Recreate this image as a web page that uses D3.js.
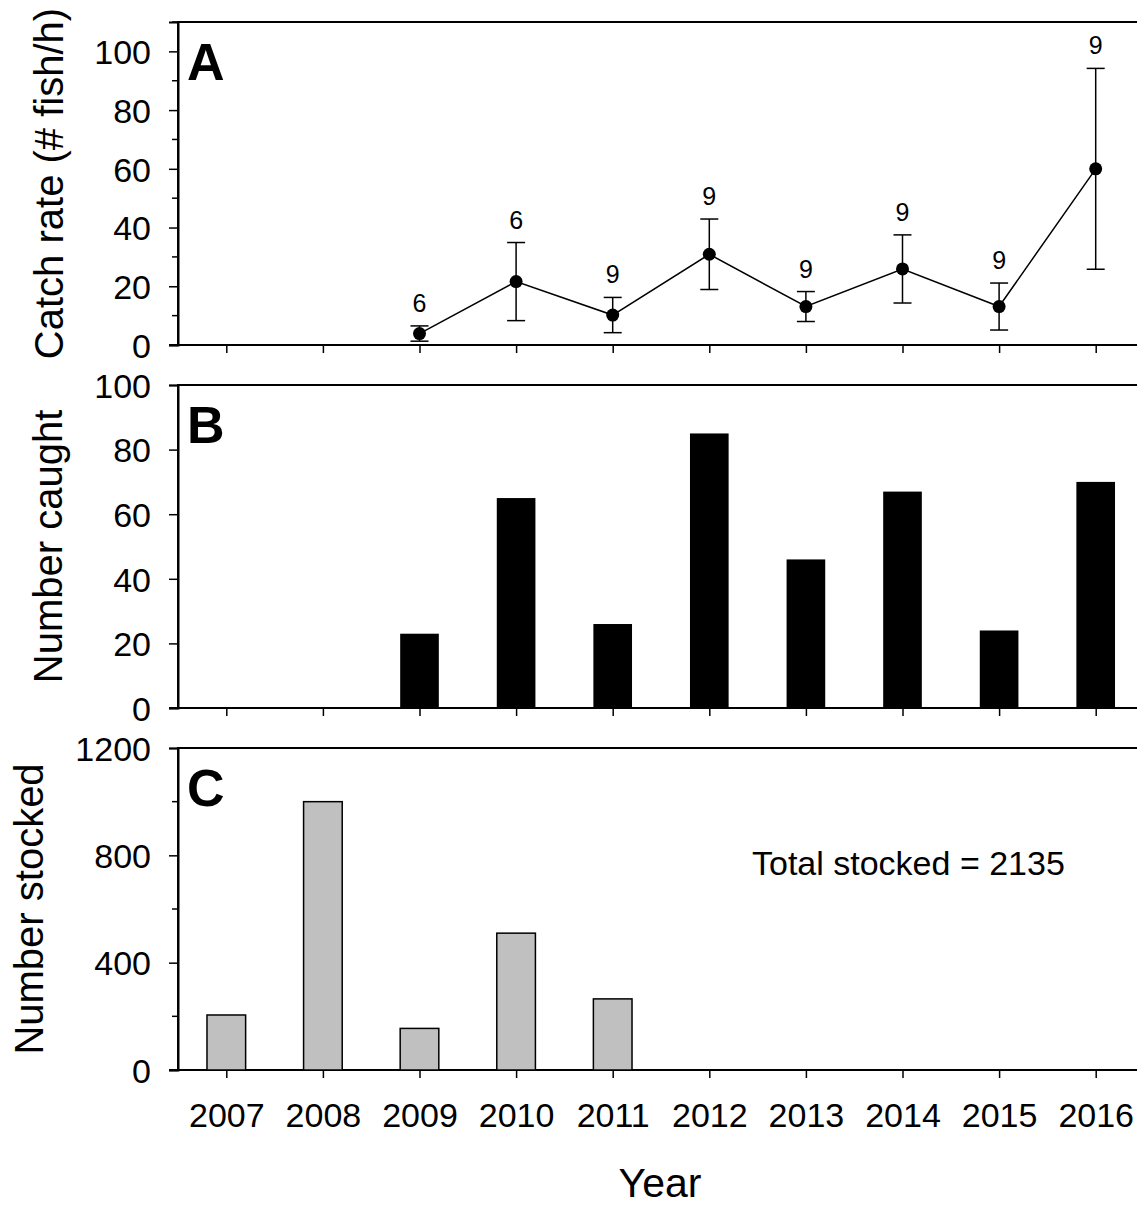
<!DOCTYPE html>
<html>
<head>
<meta charset="utf-8">
<script src="https://cdn.jsdelivr.net/npm/d3@7"></script>
<style>
  html, body { margin: 0; padding: 0; background: #fff; }
  svg { display: block; }
  text { font-family: "Liberation Sans", Arial, sans-serif; fill: #000; }
</style>
</head>
<body>
<svg id="chart" width="1137" height="1209"></svg>
<script>
// Sampling years
const years = [2007, 2008, 2009, 2010, 2011, 2012, 2013, 2014, 2015, 2016];

// Panel A: mean catch rate (# fish/h), its error and number of samples
const catchRate = [null, null, 3.9, 21.6, 10.2, 30.9, 13.1, 25.9, 13.1, 60.0];
const catchErr  = [null, null, 2.6, 13.3, 6.0, 12.0, 5.1, 11.6, 8.0, 34.2];
const nSamples  = [null, null, 6, 6, 9, 9, 9, 9, 9, 9];

// Panel B: number of fish caught
const caught = [0, 0, 23, 65, 26, 85, 46, 67, 24, 70];

// Panel C: number of fish stocked
const stocked = [205, 1000, 155, 510, 265, 0, 0, 0, 0, 0];
const totalStocked = d3.sum(stocked);

const svg = d3.select("#chart");

const left = 178, right = 1144;
const x = d3.scaleLinear().domain([2006.5, 2016.5]).range([left, right]);
const barW = (x(2008) - x(2007)) * 0.4;

const panels = [
  { id: "A", top: 22,  bottom: 345,  domain: [0, 110],  major: d3.range(0, 101, 20),  minor: d3.range(10, 111, 20),  title: "Catch rate (# fish/h)", titleX: 63 },
  { id: "B", top: 385, bottom: 708,  domain: [0, 100],  major: d3.range(0, 101, 20),  minor: [],                      title: "Number caught",         titleX: 62 },
  { id: "C", top: 748, bottom: 1070, domain: [0, 1200], major: d3.range(0, 1201, 400), minor: d3.range(200, 1001, 400), title: "Number stocked",       titleX: 43 }
];

panels.forEach(p => {
  p.y = d3.scaleLinear().domain(p.domain).range([p.bottom, p.top]);
  const g = svg.append("g").attr("class", "panel-" + p.id);
  p.g = g;

  // frame (top edge and right edge run past the visible area)
  g.append("path")
    .attr("d", `M${left},${p.bottom}V${p.top}H${right}V${p.bottom}`)
    .attr("fill", "none").attr("stroke", "#000").attr("stroke-width", 2);

  // y axis with major labelled ticks
  const yAxis = d3.axisLeft(p.y).tickValues(p.major).tickSize(9).tickPadding(18).tickFormat(d3.format("d"));
  const ya = g.append("g").attr("transform", `translate(${left},0)`).call(yAxis);
  ya.select(".domain").attr("stroke-width", 2);
  ya.selectAll(".tick line").attr("stroke-width", 1.5);
  ya.selectAll(".tick text").style("font-size", "34px").attr("dy", "0.36em");

  // minor ticks
  g.selectAll(".minor").data(p.minor).join("line")
    .attr("x1", left - 6).attr("x2", left)
    .attr("y1", d => p.y(d)).attr("y2", d => p.y(d))
    .attr("stroke", "#000").attr("stroke-width", 1.5);

  // x axis
  const xAxis = d3.axisBottom(x).tickValues(years).tickSize(8).tickPadding(25).tickFormat(d3.format("d"));
  const xa = g.append("g").attr("transform", `translate(0,${p.bottom})`).call(xAxis);
  xa.select(".domain").attr("stroke-width", 2).attr("d", `M${left - 9},0H${right}`);
  xa.selectAll(".tick line").attr("stroke-width", 1.5);
  xa.selectAll(".tick text").style("font-size", "34px");
  if (p.id !== "C") xa.selectAll(".tick text").remove();

  // panel letter
  g.append("text")
    .attr("x", 187).attr("y", p.top + 58)
    .style("font-size", "52px").style("font-weight", "bold")
    .text(p.id);

  // y axis title
  g.append("text")
    .attr("transform", `translate(${p.titleX},${(p.top + p.bottom) / 2}) rotate(-90)`)
    .attr("text-anchor", "middle")
    .style("font-size", "40px")
    .text(p.title);
});

// ---- Panel A: catch rate line with error bars ----
const pA = panels[0];
const rateData = years.map((yr, i) => ({ yr, v: catchRate[i], e: catchErr[i], n: nSamples[i] }))
  .filter(d => d.v !== null);

pA.g.append("path")
  .datum(rateData)
  .attr("fill", "none").attr("stroke", "#000").attr("stroke-width", 1.5)
  .attr("d", d3.line().x(d => x(d.yr)).y(d => pA.y(d.v)));

const eb = pA.g.selectAll(".err").data(rateData).join("g").attr("class", "err");
const capHalf = 9;
eb.append("line")
  .attr("x1", d => x(d.yr)).attr("x2", d => x(d.yr))
  .attr("y1", d => pA.y(d.v - d.e)).attr("y2", d => pA.y(d.v + d.e))
  .attr("stroke", "#000").attr("stroke-width", 1.5);
eb.append("line")
  .attr("x1", d => x(d.yr) - capHalf).attr("x2", d => x(d.yr) + capHalf)
  .attr("y1", d => pA.y(d.v + d.e)).attr("y2", d => pA.y(d.v + d.e))
  .attr("stroke", "#000").attr("stroke-width", 1.5);
eb.append("line")
  .attr("x1", d => x(d.yr) - capHalf).attr("x2", d => x(d.yr) + capHalf)
  .attr("y1", d => pA.y(d.v - d.e)).attr("y2", d => pA.y(d.v - d.e))
  .attr("stroke", "#000").attr("stroke-width", 1.5);
eb.append("circle")
  .attr("cx", d => x(d.yr)).attr("cy", d => pA.y(d.v)).attr("r", 6.5)
  .attr("fill", "#000");
eb.append("text")
  .attr("x", d => x(d.yr)).attr("y", d => pA.y(d.v + d.e) - 14)
  .attr("text-anchor", "middle")
  .style("font-size", "25px")
  .text(d => d.n);

// ---- Panel B: number caught ----
const pB = panels[1];
pB.g.selectAll(".bar").data(years.map((yr, i) => ({ yr, v: caught[i] })).filter(d => d.v > 0))
  .join("rect").attr("class", "bar")
  .attr("x", d => x(d.yr) - barW / 2).attr("width", barW)
  .attr("y", d => pB.y(d.v)).attr("height", d => pB.y(0) - pB.y(d.v))
  .attr("fill", "#000");

// ---- Panel C: number stocked ----
const pC = panels[2];
pC.g.selectAll(".bar").data(years.map((yr, i) => ({ yr, v: stocked[i] })).filter(d => d.v > 0))
  .join("rect").attr("class", "bar")
  .attr("x", d => x(d.yr) - barW / 2).attr("width", barW)
  .attr("y", d => pC.y(d.v)).attr("height", d => pC.y(0) - pC.y(d.v))
  .attr("fill", "#c0c0c0").attr("stroke", "#000").attr("stroke-width", 1.5);

pC.g.append("text")
  .attr("x", 752).attr("y", 875)
  .style("font-size", "34px")
  .text(`Total stocked = ${totalStocked}`);

// x axis title
svg.append("text")
  .attr("x", 660).attr("y", 1197)
  .attr("text-anchor", "middle")
  .style("font-size", "41px")
  .text("Year");
</script>
</body>
</html>
